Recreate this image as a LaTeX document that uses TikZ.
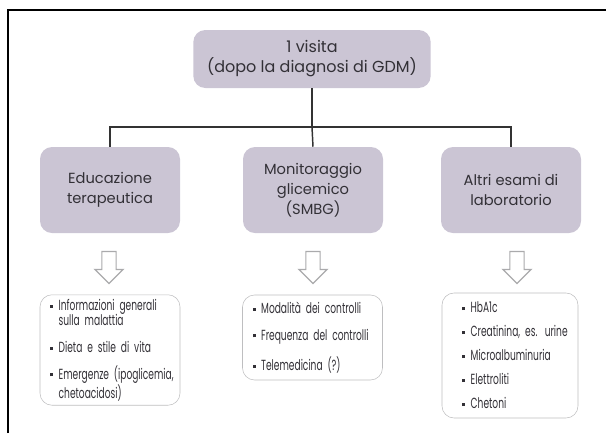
\documentclass[tikz,border=0pt]{standalone}
\usepackage{fontspec}
\setmainfont{Poppins}
\newfontfamily\narrowfont[FakeStretch=0.62]{Poppins}
\usepackage{tikz}
\usetikzlibrary{shapes.arrows}

\definecolor{headfill}{RGB}{203,197,212}
\definecolor{headtext}{RGB}{50,48,54}
\definecolor{listline}{RGB}{190,190,192}
\definecolor{arrowline}{RGB}{170,170,172}

\newcommand{\itm}[1]{\mbox{\makebox[6.5pt][l]{\rule[2pt]{2.3pt}{2.3pt}}#1}}
\newcommand{\cnt}[1]{\mbox{\hspace*{6.5pt}#1}}

\begin{document}
\begin{tikzpicture}[x=0.75pt, y=-0.75pt,
    headbox/.style={fill=headfill, rounded corners=9pt, align=center, text=headtext,
        font=\fontsize{11}{15}\selectfont, minimum width=105pt, minimum height=64.5pt},
    listbox/.style={draw=listline, thin, fill=white, rounded corners=9pt, align=left,
        text=headtext, inner xsep=7.5pt, text width=90pt,
        font=\narrowfont\fontsize{11}{11.5}\selectfont},
    downarrow/.style={single arrow, draw=arrowline, line width=0.9pt, fill=white,
        rotate=-90, inner xsep=0pt, inner ysep=4.9pt, single arrow head extend=5.2pt,
        minimum height=24pt},
    conn/.style={line width=1.1pt, draw=black!80}]
    \useasboundingbox (0,0) rectangle (606,433);
    \draw[line width=2pt] (8,433) -- (8,10) -- (606,10);

    \node[headbox, minimum width=178pt, minimum height=43.5pt, font=\fontsize{12}{15}\selectfont] (visit) at (312,59)
        {1 visita\\(dopo la diagnosi di GDM)};

    \node[headbox] (edu) at (110,190) {Educazione\\terapeutica};
    \node[headbox] (mon) at (313,190) {Monitoraggio\\glicemico\\(SMBG)};
    \node[headbox] (lab) at (511,190) {Altri esami di\\laboratorio};

    \coordinate (bus) at (312,127);
    \draw[conn] (visit) -- (bus);
    \draw[conn] (edu.north) |- (bus) -| (lab.north);
    \draw[conn] (bus) -- (mon.north);

    \node[downarrow] (eduarrow) at (109,264) {};
    \node[downarrow] (monarrow) at (313,264) {};
    \node[downarrow] (labarrow) at (517,264) {};

    \node[listbox, minimum height=82.5pt] (edulist) at (110,350) {%
        \itm{Informazioni generali}\\\cnt{sulla malattia}\\[8.5pt]
        \itm{Dieta e stile di vita}\\[8.5pt]
        \itm{Emergenze (ipoglicemia,}\\\cnt{chetoacidosi)}};
    \node[listbox, minimum height=63.75pt] (monlist) at (312.5,337.5) {%
        \itm{Modalità dei controlli}\\[8.5pt]
        \itm{Frequenza del controlli}\\[8.5pt]
        \itm{Telemedicina (?)}};
    \node[listbox, minimum height=93.75pt, inner xsep=15pt, text width=72pt] (lablist) at (510,355.5) {%
        \itm{HbA1c}\\[6.5pt]
        \itm{Creatinina, es. urine}\\[6.5pt]
        \itm{Microalbuminuria}\\[6.5pt]
        \itm{Elettroliti}\\[6.5pt]
        \itm{Chetoni}};
\end{tikzpicture}
\end{document}
